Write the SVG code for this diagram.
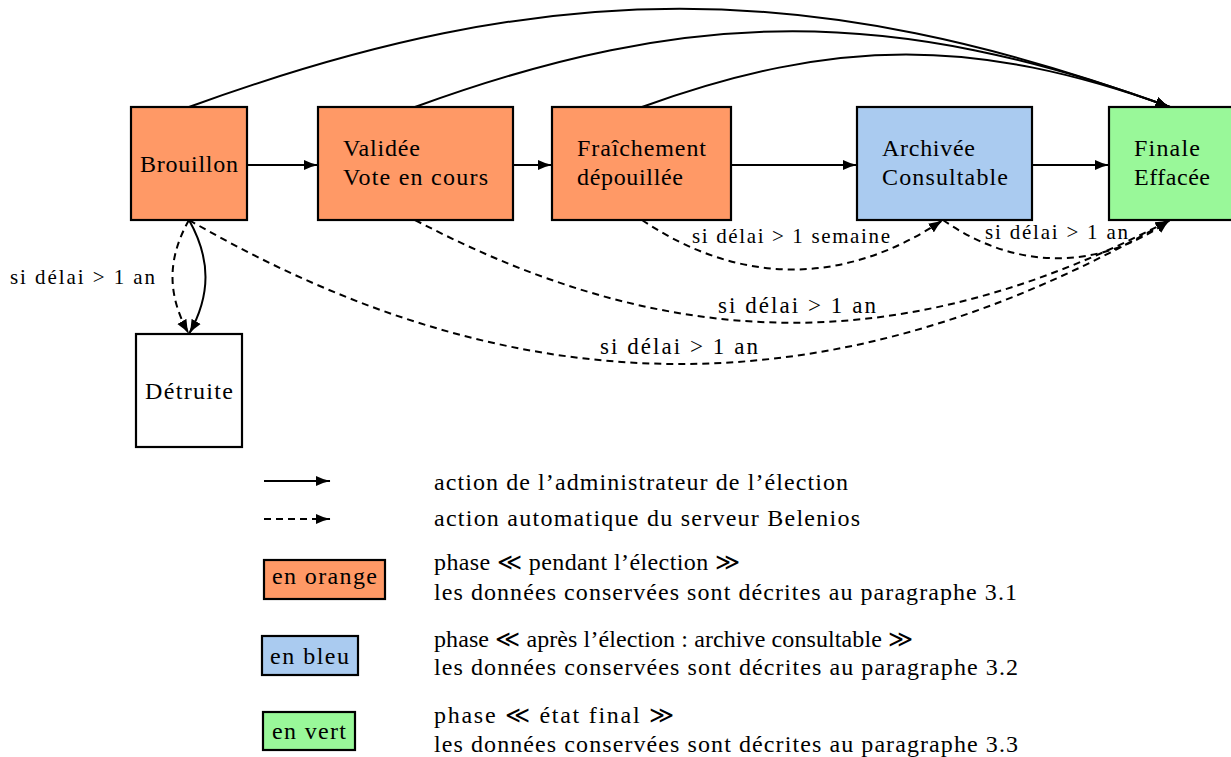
<svg xmlns="http://www.w3.org/2000/svg" width="1231" height="757" viewBox="0 0 1231 757">
<style>
.box{stroke:#000;stroke-width:2.2}
.or{fill:#FF9966}.bl{fill:#AACBF0}.gr{fill:#99F899}.wh{fill:#fff}
text{font-family:"Liberation Serif","DejaVu Serif","Times New Roman",serif;fill:#000}
.t{font-size:24px}
.lb{font-size:23px}
.ls{font-size:21px}
.e{fill:none;stroke:#000;stroke-width:2}
.d{stroke-dasharray:7 5}
</style>
<defs>
<marker id="arr" viewBox="0 0 15 11" refX="14.5" refY="5.5" markerWidth="15" markerHeight="11" markerUnits="userSpaceOnUse" orient="auto">
<path d="M0,0.3 Q7,4 15,5.5 Q7,7 0,10.7 z" fill="#000"/>
</marker>
</defs>

<g id="connectors">
<line class="e" x1="247" y1="165" x2="318" y2="165" marker-end="url(#arr)"/>
<line class="e" x1="513" y1="165" x2="552" y2="165" marker-end="url(#arr)"/>
<line class="e" x1="731" y1="165" x2="857" y2="165" marker-end="url(#arr)"/>
<line class="e" x1="1032" y1="165" x2="1109" y2="165" marker-end="url(#arr)"/>
<path class="e" d="M189,107 C549,-24 810,-24 1170,107" marker-end="url(#arr)"/>
<path class="e" d="M415,107 C692,6 893,6 1170,107" marker-end="url(#arr)"/>
<path class="e" d="M642,107 C836,37 976,37 1170,107" marker-end="url(#arr)"/>
<path class="e d" d="M642,220 C740,286 845,286 943,220" marker-end="url(#arr)"/>
<path class="e d" d="M943,220 C1016,271 1099,271 1170,220" marker-end="url(#arr)"/>
<path class="e d" d="M415,220 C676,357 909,357 1170,220" marker-end="url(#arr)"/>
<path class="e d" d="M189,220 C521,412 838,412 1170,220" marker-end="url(#arr)"/>
<path class="e d" d="M189,220 C167,259 167,295 189,334" marker-end="url(#arr)"/>
<path class="e" d="M189,220 C211,259 211,295 189,334" marker-end="url(#arr)"/>
<text class="ls" x="10" y="284" textLength="145" lengthAdjust="spacing">si délai &gt; 1 an</text>
<text class="ls" x="692" y="243" textLength="198" lengthAdjust="spacing">si délai &gt; 1 semaine</text>
<text class="ls" x="985" y="239" textLength="143" lengthAdjust="spacing">si délai &gt; 1 an</text>
<text class="lb" x="718" y="313" textLength="158" lengthAdjust="spacing">si délai &gt; 1 an</text>
<text class="lb" x="600" y="354" textLength="158" lengthAdjust="spacing">si délai &gt; 1 an</text>
</g>

<g id="brouillon">
<rect class="box or" x="131" y="107" width="116" height="113"/>
<text class="t" x="140" y="172" textLength="98" lengthAdjust="spacing">Brouillon</text>
</g>
<g id="validee">
<rect class="box or" x="318" y="107" width="195" height="113"/>
<text class="t" x="343" y="156" textLength="77" lengthAdjust="spacing">Validée</text>
<text class="t" x="343" y="185" textLength="145" lengthAdjust="spacing">Vote en cours</text>
</g>
<g id="fraichement">
<rect class="box or" x="552" y="107" width="179" height="113"/>
<text class="t" x="577" y="156" textLength="129" lengthAdjust="spacing">Fraîchement</text>
<text class="t" x="577" y="185" textLength="106" lengthAdjust="spacing">dépouillée</text>
</g>
<g id="archivee">
<rect class="box bl" x="857" y="107" width="175" height="113"/>
<text class="t" x="882" y="156" textLength="93" lengthAdjust="spacing">Archivée</text>
<text class="t" x="882" y="185" textLength="126" lengthAdjust="spacing">Consultable</text>
</g>
<g id="finale">
<rect class="box gr" x="1109" y="107" width="130" height="113"/>
<text class="t" x="1134" y="156" textLength="66" lengthAdjust="spacing">Finale</text>
<text class="t" x="1134" y="185" textLength="76" lengthAdjust="spacing">Effacée</text>
</g>
<g id="detruite">
<rect class="box wh" x="136" y="334" width="106" height="113"/>
<text class="t" x="145" y="399" textLength="88" lengthAdjust="spacing">Détruite</text>
</g>

<g id="legend">
<line class="e" x1="264" y1="481" x2="330" y2="481" marker-end="url(#arr)"/>
<line class="e d" x1="264" y1="519" x2="330" y2="519" marker-end="url(#arr)"/>
<text class="t" x="434" y="490" textLength="414" lengthAdjust="spacing">action de l’administrateur de l’élection</text>
<text class="t" x="434" y="526" textLength="426" lengthAdjust="spacing">action automatique du serveur Belenios</text>
<rect class="box or" x="264" y="560" width="121" height="39"/>
<text class="t" x="272" y="584" textLength="105" lengthAdjust="spacing">en orange</text>
<text class="t" x="434" y="570" textLength="306" lengthAdjust="spacing">phase ≪ pendant l’élection ≫</text>
<text class="t" x="434" y="600" textLength="583" lengthAdjust="spacing">les données conservées sont décrites au paragraphe 3.1</text>
<rect class="box bl" x="262" y="636" width="96" height="39"/>
<text class="t" x="270" y="664" textLength="79" lengthAdjust="spacing">en bleu</text>
<text class="t" x="434" y="647" textLength="479" lengthAdjust="spacing">phase ≪ après l’élection : archive consultable ≫</text>
<text class="t" x="434" y="675" textLength="584" lengthAdjust="spacing">les données conservées sont décrites au paragraphe 3.2</text>
<rect class="box gr" x="263" y="712" width="92" height="38"/>
<text class="t" x="272" y="739" textLength="74" lengthAdjust="spacing">en vert</text>
<text class="t" x="434" y="723" textLength="240" lengthAdjust="spacing">phase ≪ état final ≫</text>
<text class="t" x="434" y="752" textLength="584" lengthAdjust="spacing">les données conservées sont décrites au paragraphe 3.3</text>
</g>
</svg>
